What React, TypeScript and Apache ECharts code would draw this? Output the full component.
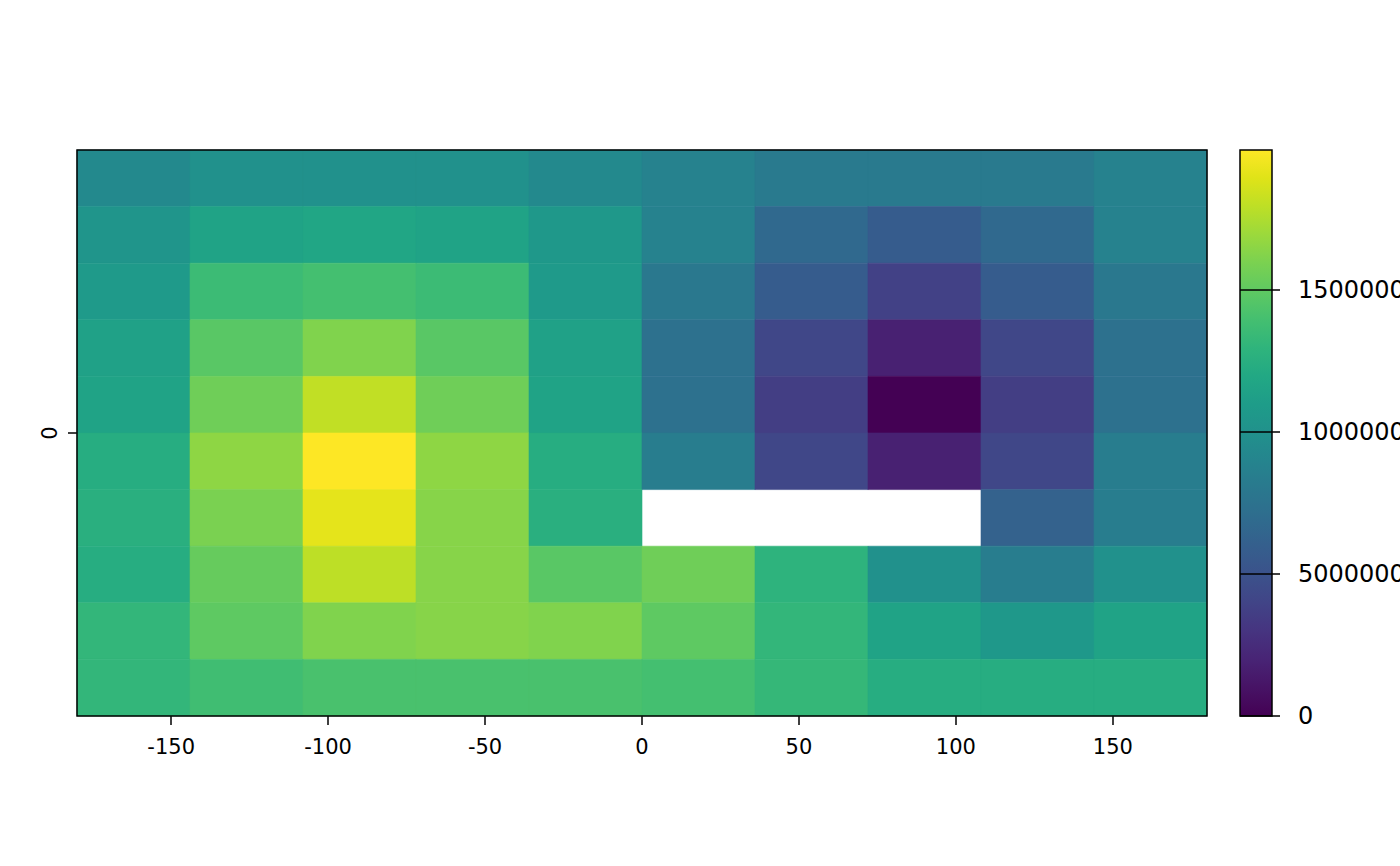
import React, { useEffect, useRef } from 'react';
import * as echarts from 'echarts';

// raster cell centres (degrees) and resolution
const lonCenters = [-162, -126, -90, -54, -18, 18, 54, 90, 126, 162];
const latCenters = [81, 63, 45, 27, 9, -9, -27, -45, -63, -81];
const RES_X = 36;
const RES_Y = 18;

// cell values, one row per latitude band (top to bottom); null = NA
const row1 = [9370000, 9970000, 9970000, 9970000, 9370000, 8770000, 8170000, 8170000, 8170000, 8770000];
const row2 = [10360000, 11560000, 11760000, 11560000, 10560000, 8770000, 6780000, 5780000, 6780000, 8770000];
const row3 = [10760000, 13550000, 13950000, 13550000, 10760000, 7970000, 5780000, 3790000, 5780000, 7970000];
const row4 = [11360000, 14750000, 16140000, 14750000, 11360000, 7370000, 4190000, 1790000, 4190000, 7370000];
const row5 = [11560000, 15550000, 18040000, 15550000, 11560000, 7370000, 3590000, 0, 3590000, 7370000];
const row6 = [12360000, 16540000, 19930000, 16540000, 12360000, 8370000, 4190000, 1790000, 4190000, 8370000];
const row7 = [12560000, 15940000, 19130000, 16340000, 12560000, null, null, null, 6180000, 8370000];
const row8 = [12360000, 15250000, 17940000, 16340000, 14750000, 15550000, 12850000, 9970000, 8370000, 9970000];
const row9 = [13150000, 14950000, 16140000, 16340000, 16140000, 14950000, 13150000, 11560000, 10560000, 11560000];
const row10 = [13150000, 13750000, 14150000, 14150000, 14150000, 13950000, 13250000, 12360000, 12360000, 12360000];
const rows = [row1, row2, row3, row4, row5, row6, row7, row8, row9, row10];

const VMIN = 0;
const VMAX = 19930000;

const xTicks = [-150, -100, -50, 0, 50, 100, 150];
const yTicks = [0];
const legendTicks = [0, 5000000, 10000000, 15000000];

const viridis = [
  '#440154', '#471365', '#482475', '#463480', '#414487', '#3B528B', '#355F8D',
  '#2F6C8E', '#2A788E', '#25848E', '#21918C', '#1E9C89', '#22A884', '#2FB47C',
  '#44BF70', '#5EC962', '#7AD151', '#9BD93C', '#BDDF26', '#DFE318', '#FDE725',
];

const FONT = 'DejaVu Sans';

const App: React.FC = () => {
  const ref = useRef<HTMLDivElement>(null);

  useEffect(() => {
    if (!ref.current) return;
    const chart = echarts.init(ref.current, undefined, { renderer: 'svg' });

    const cells: [number, number, number][] = [];
    rows.forEach((r, i) => {
      r.forEach((v, j) => {
        if (v !== null) cells.push([lonCenters[j], latCenters[i], v]);
      });
    });

    const stops = viridis.map((c, i) => ({ offset: i / (viridis.length - 1), color: c }));
    const tickStyle = { color: '#000', width: 1.5 };
    const noLine = { show: false, onZero: false };

    chart.setOption({
      animation: false,
      backgroundColor: '#fff',
      textStyle: { fontFamily: FONT },
      grid: [
        {
          left: 77, top: 150, width: 1130, height: 566, show: true, borderColor: '#000', borderWidth: 1.5,
          backgroundColor: 'transparent', z: 10, containLabel: false, outerBoundsMode: 'none',
        },
        {
          left: 1240, top: 150, width: 32, height: 566, show: true, borderColor: '#000', borderWidth: 1.5,
          backgroundColor: 'transparent', z: 10, containLabel: false, outerBoundsMode: 'none',
        },
      ],
      xAxis: [
        {
          type: 'value', gridIndex: 0, min: -180, max: 180, position: 'bottom',
          axisLine: noLine,
          axisTick: { customValues: xTicks, length: 9, lineStyle: tickStyle },
          axisLabel: { customValues: xTicks, fontSize: 21, color: '#000', margin: 20, fontFamily: FONT },
          splitLine: { show: false },
        },
        { type: 'value', gridIndex: 1, min: 0, max: 1, show: false, axisLine: noLine },
      ],
      yAxis: [
        {
          type: 'value', gridIndex: 0, min: -90, max: 90, position: 'left',
          axisLine: noLine,
          axisTick: { customValues: yTicks, length: 9, lineStyle: tickStyle },
          axisLabel: { customValues: yTicks, fontSize: 21, color: '#000', rotate: 90, margin: 17, fontFamily: FONT },
          splitLine: { show: false },
        },
        {
          type: 'value', gridIndex: 1, min: VMIN, max: VMAX, position: 'right',
          axisLine: noLine,
          axisTick: { customValues: legendTicks, length: 8, lineStyle: tickStyle },
          axisLabel: { customValues: legendTicks, fontSize: 24, color: '#000', margin: 26, fontFamily: FONT, formatter: (v: number) => String(v) },
          splitLine: { show: false },
        },
      ],
      visualMap: {
        show: false,
        type: 'continuous',
        min: VMIN,
        max: VMAX,
        dimension: 2,
        seriesIndex: 0,
        inRange: { color: viridis },
      },
      series: [
        {
          type: 'custom',
          xAxisIndex: 0,
          yAxisIndex: 0,
          data: cells,
          renderItem: (_params: any, api: any) => {
            const x = api.value(0);
            const y = api.value(1);
            const p0 = api.coord([x - RES_X / 2, y + RES_Y / 2]);
            const p1 = api.coord([x + RES_X / 2, y - RES_Y / 2]);
            const color = api.visual('color');
            return {
              type: 'rect',
              shape: { x: p0[0], y: p0[1], width: p1[0] - p0[0], height: p1[1] - p0[1] },
              style: { fill: color, stroke: color, lineWidth: 0.6 },
            };
          },
        },
        {
          // colour bar
          type: 'custom',
          xAxisIndex: 1,
          yAxisIndex: 1,
          data: [[0, 1, VMIN, VMAX]],
          renderItem: (_params: any, api: any) => {
            const p0 = api.coord([api.value(0), api.value(3)]);
            const p1 = api.coord([api.value(1), api.value(2)]);
            return {
              type: 'rect',
              shape: { x: p0[0], y: p0[1], width: p1[0] - p0[0], height: p1[1] - p0[1] },
              style: { fill: new echarts.graphic.LinearGradient(0, 1, 0, 0, stops) },
            };
          },
        },
        {
          // tick lines drawn across the colour bar
          type: 'custom',
          xAxisIndex: 1,
          yAxisIndex: 1,
          z: 5,
          data: legendTicks.map((v) => [0, 1, v]),
          renderItem: (_params: any, api: any) => {
            const p0 = api.coord([api.value(0), api.value(2)]);
            const p1 = api.coord([api.value(1), api.value(2)]);
            return {
              type: 'line',
              shape: { x1: p0[0], y1: p0[1], x2: p1[0], y2: p1[1] },
              style: { stroke: '#000', lineWidth: 1.5 },
            };
          },
        },
      ],
    });

    return () => { chart.dispose(); };
  }, []);

  return <div ref={ref} style={{ position: 'fixed', left: 0, top: 0, width: 1400, height: 866 }} />;
};

export default App;
